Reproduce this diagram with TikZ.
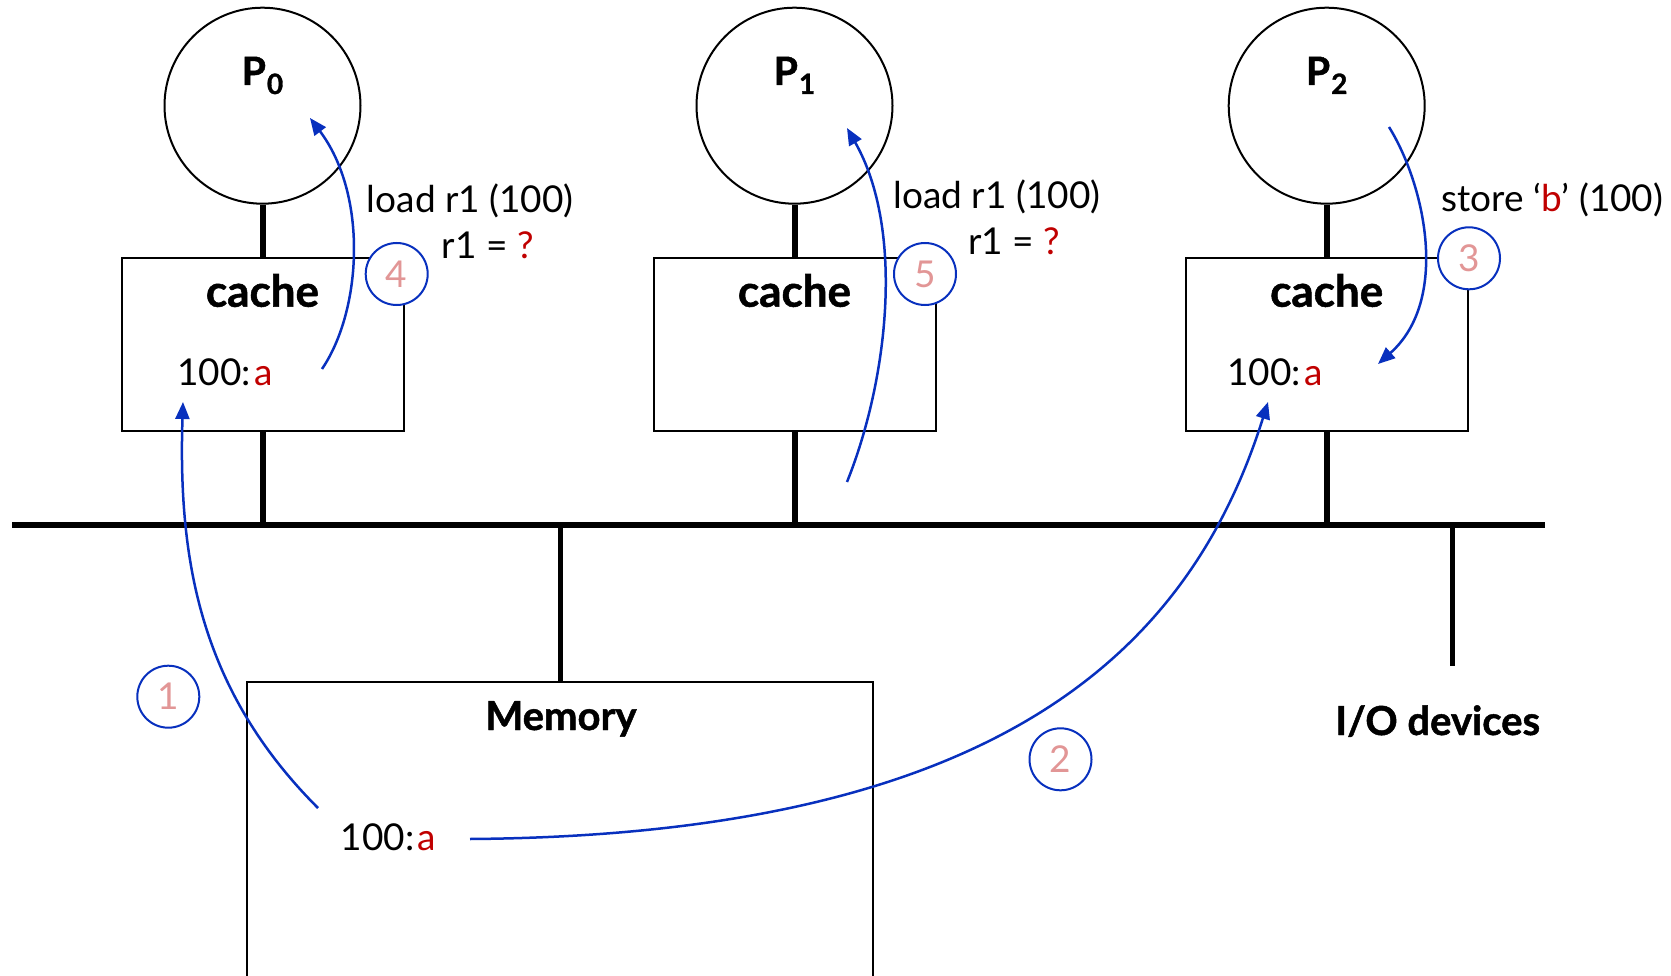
\documentclass[tikz,border=0pt]{standalone}
\usepackage{fontspec}
\setmainfont{Lato}
\newfontfamily\heavyfont{Lato}[BoldFeatures={FakeBold=1.2}]
\usetikzlibrary{arrows.meta}
\definecolor{flowblue}{RGB}{8,48,190}
\definecolor{valred}{RGB}{192,0,0}
\definecolor{numpink}{RGB}{226,150,150}
\newcommand{\procname}[1]{P\kern1pt\raisebox{-9pt}{\fontsize{28}{28}\selectfont #1}}
\newcommand{\val}[1]{\textcolor{valred}{#1}}
\newcommand{\cellval}[2]{#1:\kern3pt\val{#2}}
\begin{document}
\begin{tikzpicture}[x=1pt,y=-1pt,
  proc/.style={circle,draw,line width=2pt,minimum size=196pt,inner sep=0},
  cachebox/.style={draw,line width=2pt,minimum width=282pt,minimum height=173pt,inner sep=0},
  membox/.style={draw,line width=2pt,minimum width=626pt,minimum height=330pt,inner sep=0},
  stem/.style={line width=6pt},
  thinstem/.style={line width=5pt},
  bus/.style={line width=6pt},
  txt/.style={inner sep=0,anchor=base west,font=\fontsize{37}{44}\selectfont},
  heading/.style={inner sep=0,anchor=base,font=\fontsize{40}{48}\selectfont\heavyfont\bfseries},
  plabel/.style={inner sep=0,anchor=base,font=\fontsize{39}{46}\selectfont\heavyfont\bfseries},
  stepcirc/.style={circle,draw=flowblue,fill=white,line width=2pt,minimum size=62pt,inner sep=0,
    text=numpink,font=\fontsize{37}{37}\selectfont},
  flow/.style={draw=flowblue,line width=2.5pt,-{Triangle[length=17pt,width=14pt]}}]
\useasboundingbox (0,0) rectangle (1671,976);

% bus
\coordinate (busL) at (12,525);
\coordinate (busR) at (1545,525);
\draw[bus] (busL) -- (busR);

% processors and their caches
\foreach \i/\x in {0/262.5,1/794.5,2/1326.7}{
  \node[proc] (p\i) at (\x,105.7) {};
  \node[plabel] (pl\i) at (\x,85) {\procname{\i}};
  \node[cachebox] (c\i) at (\x,344.7) {};
  \node[heading,font=\fontsize{44}{52}\selectfont\heavyfont\bfseries] (ct\i) at (\x,306.7) {cache};
  \draw[stem] (p\i.south) -- (c\i.north);
  \draw[stem] (c\i.south) -- (c\i.south |- busL);
}

% memory
\node[membox] (mem) at (560,846.5) {};
\node[heading] (memlbl) at (561,730) {Memory};
\draw[thinstem] (mem.north) -- (mem.north |- busL);

% I/O devices
\coordinate (iotop) at (1452,525);
\coordinate (iobot) at (1452,666);
\draw[thinstem] (iotop) -- (iobot);
\node[heading] (io) at (1437.7,735) {I/O devices};

% values
\node[txt] (v0) at (177.3,385) {\cellval{100}{a}};
\node[txt] (v2) at (1227.3,385) {\cellval{100}{a}};
\node[txt] (vm) at (340.6,850) {\cellval{100}{a}};

% instructions
\node[txt] (ld0) at (366.7,212.3) {load r1 (100)};
\node[txt] (rq0) at (441.7,258.3) {r1 = \val{?}};
\node[txt] (ld1) at (893.3,208.3) {load r1 (100)};
\node[txt] (rq1) at (968.3,255) {r1 = \val{?}};
\node[txt] (st2) at (1441,212) {store ‘\val{b}’ (100)};

% step markers
\node[stepcirc] (s1) at (168.3,696.7) {1};
\node[stepcirc] (s2) at (1060.5,759.3) {2};
\node[stepcirc] (s3) at (1469,258.3) {3};
\node[stepcirc] (s4) at (396.7,274) {4};
\node[stepcirc] (s5) at (925,274) {5};

% data movements
\coordinate (a1s) at (318,808);  \coordinate (a1e) at (183,402);
\coordinate (a2s) at (470,839);  \coordinate (a2e) at (1268,402);
\coordinate (a3s) at (1389,127); \coordinate (a3e) at (1378,364);
\coordinate (a4s) at (322,369);  \coordinate (a4e) at (310,118);
\coordinate (a5s) at (847,482);  \coordinate (a5e) at (847,128);
\draw[flow] (a1s) .. controls (200,690) and (178,560) .. (a1e);
\draw[flow] (a2s) .. controls (1000,835) and (1190,650) .. (a2e);
\draw[flow] (a3s) .. controls (1425,185) and (1450,300) .. (a3e);
\draw[flow] (a4s) .. controls (362,310) and (368,195) .. (a4e);
\draw[flow] (a5s) .. controls (888,380) and (905,230) .. (a5e);
\end{tikzpicture}
\end{document}
